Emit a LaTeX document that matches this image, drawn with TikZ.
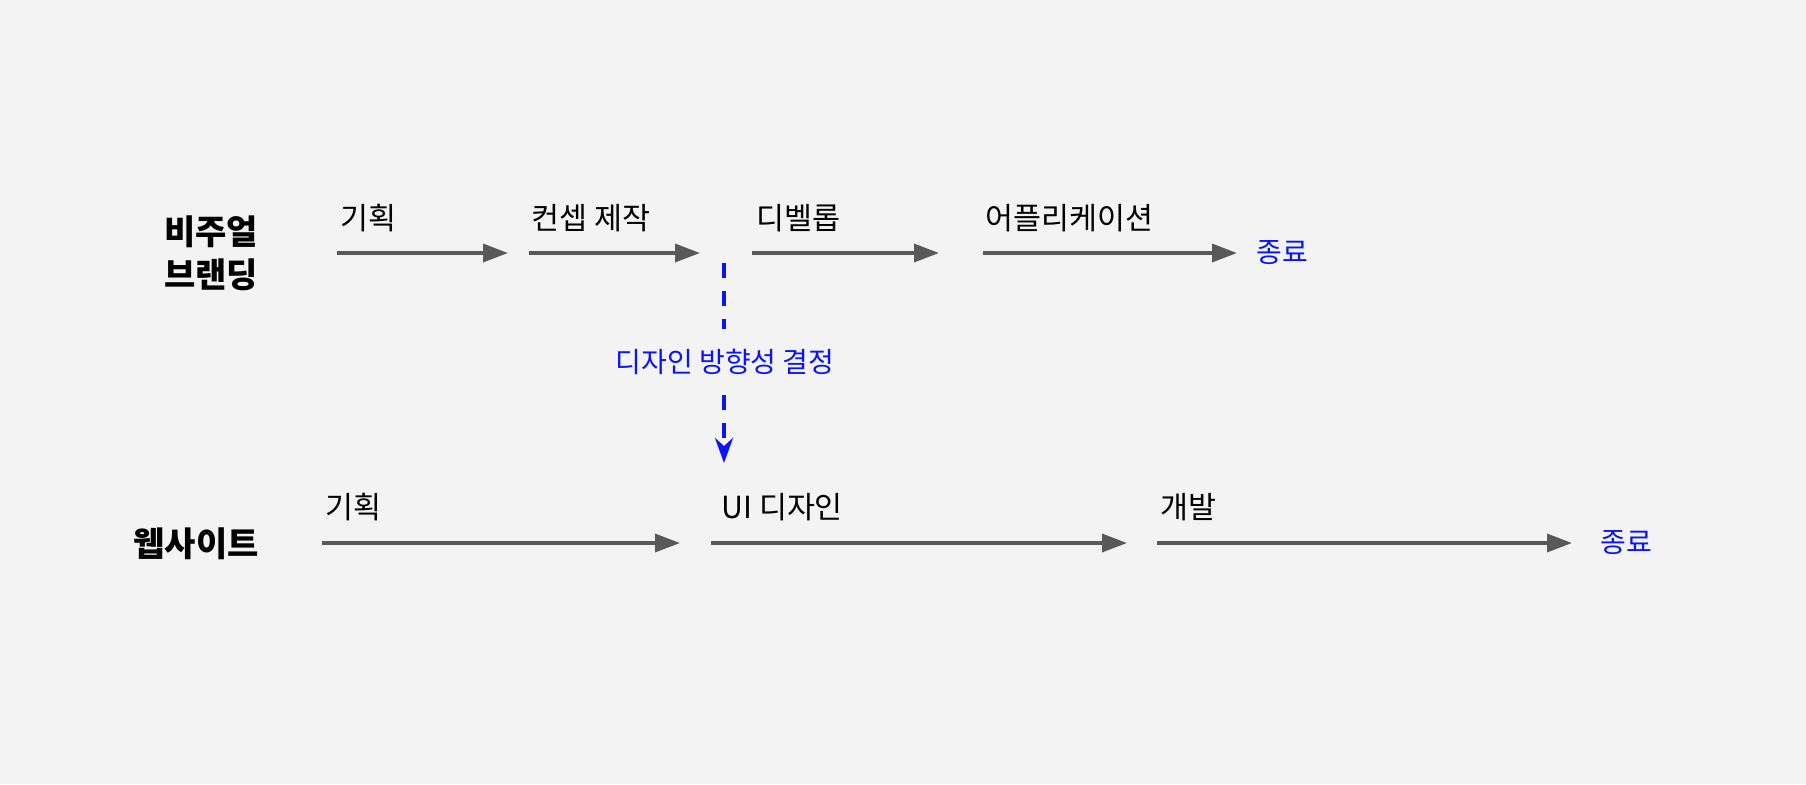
\documentclass[tikz,border=0pt]{standalone}
\usepackage{fontspec}
\setmainfont{Noto Sans CJK KR}
\usetikzlibrary{arrows.meta}
\definecolor{bgc}{HTML}{F3F3F3}
\definecolor{flowgray}{HTML}{595959}
\definecolor{endblue}{HTML}{0A14F5}
\tikzset{
	flow/.style={draw=flowgray, line width=1.7pt, -{Triangle[length=12.5pt, width=9pt]}},
	dashflow/.style={draw=endblue, line width=2pt, dash pattern=on 7.5pt off 6.5pt},
	steplabel/.style={anchor=base west, inner sep=0pt, font=\fontsize{15.2}{17}\selectfont},
	endlabel/.style={inner sep=0pt, text=endblue, font=\fontsize{14}{16}\selectfont},
	track/.style={align=center, inner sep=0pt, font=\fontsize{17}{21.5}\selectfont\bfseries}
}
\begin{document}
\begin{tikzpicture}[x=0.5pt, y=-0.5pt]
		\useasboundingbox[fill=bgc] (0,0) rectangle (1806,784);
		% row titles
		\node[track](brand) at (211,253) {비주얼\\브랜딩};
		\node[track](web) at (196,544) {웹사이트};
		% visual branding
		\coordinate (b1s) at (337,253); \coordinate (b1e) at (508,253);
		\coordinate (b2s) at (529,253); \coordinate (b2e) at (700,253);
		\coordinate (b3s) at (752,253); \coordinate (b3e) at (939,253);
		\coordinate (b4s) at (983,253); \coordinate (b4e) at (1237,253);
		\node[steplabel](bplan) at (340,229) {기획};
		\node[steplabel](bconcept) at (531,229) {컨셉 제작};
		\node[steplabel](bdevelop) at (756,229) {디벨롭};
		\node[steplabel](bapply) at (985,229) {어플리케이션};
		\node[endlabel](bend) at (1282,253) {종료};
		\draw[flow] (b1s) -- (b1e);
		\draw[flow] (b2s) -- (b2e);
		\draw[flow] (b3s) -- (b3e);
		\draw[flow] (b4s) -- (b4e);
		% website
		\coordinate (w1s) at (322,543); \coordinate (w1e) at (680,543);
		\coordinate (w2s) at (711,543); \coordinate (w2e) at (1127,543);
		\coordinate (w3s) at (1157,543); \coordinate (w3e) at (1572,543);
		\node[steplabel](wplan) at (325,518) {기획};
		\node[steplabel](wui) at (721,518) {UI 디자인};
		\node[steplabel](wdev) at (1160,518) {개발};
		\node[endlabel](wend) at (1626,543) {종료};
		\draw[flow] (w1s) -- (w1e);
		\draw[flow] (w2s) -- (w2e);
		\draw[flow] (w3s) -- (w3e);
		% design direction
		\coordinate (dtop) at (724,263);
		\coordinate (dbot) at (724,463);
		\node[endlabel, inner ysep=10pt](decide) at (725,362) {디자인 방향성 결정};
		\draw[dashflow] (dtop) -- (decide.north -| dtop);
		\draw[dashflow, -{Stealth[length=12.5pt, width=9pt, inset=4pt]}] (decide.south -| dtop) -- (dbot);
	\end{tikzpicture}
\end{document}
